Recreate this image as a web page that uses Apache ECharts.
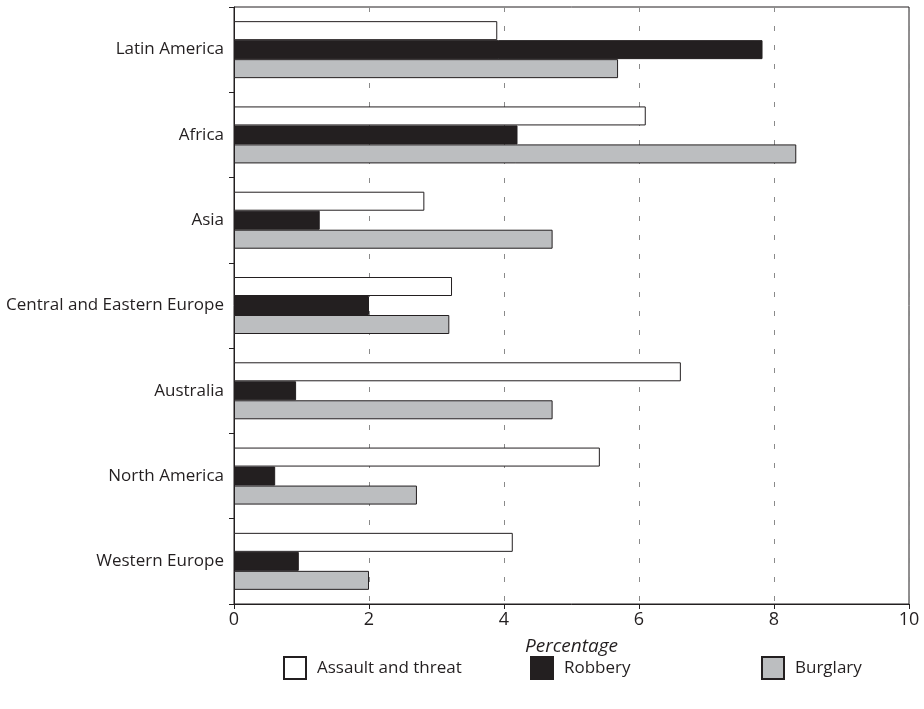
<!DOCTYPE html>
<html lang="en">
<head>
  <meta charset="UTF-8">
  <title>Victimisation by region</title>
  <script src="https://cdn.jsdelivr.net/npm/echarts@6/dist/echarts.min.js"></script>
  <style>
    body { margin: 0; background: #fff; }
  </style>
</head>
<body>
  <div id="main" style="width: 924px;height:709px;"></div>
  <script>
    // data
    var regions = ['Latin America', 'Africa', 'Asia', 'Central and Eastern Europe', 'Australia', 'North America', 'Western Europe'];
    var assault = [3.9, 6.1, 2.82, 3.23, 6.62, 5.42, 4.13];
    var robbery = [7.83, 4.2, 1.27, 2.0, 0.92, 0.61, 0.96];
    var burglary = [5.69, 8.33, 4.72, 3.19, 4.72, 2.71, 2.0];
    var xTicks = [0, 2, 4, 6, 8, 10];

    var ink = '#231f20';
    var font = '"Open Sans", "Noto Sans", sans-serif';

    var myChart = echarts.init(document.getElementById('main'));

    function bar(name, data, fill) {
      return {
        name: name,
        type: 'bar',
        data: data,
        barWidth: 19,
        barGap: '0%',
        itemStyle: { color: fill, borderColor: ink, borderWidth: 1 },
        emphasis: { disabled: true }
      };
    }

    // one legend per entry so each can sit where the original has it
    function legendItem(name, left) {
      return {
        data: [name],
        left: left,
        top: 656,
        padding: 0,
        icon: 'rect',
        itemWidth: 22,
        itemHeight: 22,
        itemGap: 0,
        textStyle: { fontFamily: font, fontSize: 17, color: ink, padding: [0, 0, 0, 6] },
        selectedMode: false
      };
    }

    var option = {
      animation: false,
      grid: {
        left: 234, right: 15, top: 7, bottom: 105,
        show: true, borderColor: ink, borderWidth: 1
      },
      legend: [
        legendItem('Assault and threat', 283),
        legendItem('Robbery', 530),
        legendItem('Burglary', 761)
      ],
      xAxis: {
        type: 'value',
        min: 0,
        max: 10,
        interval: 2,
        name: 'Percentage',
        nameLocation: 'middle',
        nameGap: 33,
        nameTextStyle: { fontFamily: font, fontSize: 19, fontStyle: 'italic', color: ink },
        axisLine: { show: true, lineStyle: { color: ink, width: 1 } },
        axisTick: { show: true, length: 5, lineStyle: { color: ink } },
        axisLabel: {
          fontFamily: font, fontSize: 18, color: ink, margin: 7,
          formatter: function (v) { return xTicks.indexOf(v) >= 0 ? String(v) : ''; }
        },
        splitLine: { show: true, lineStyle: { color: '#8a8a8a', type: [5, 14], width: 1 } }
      },
      yAxis: {
        type: 'category',
        data: regions,
        inverse: true,
        axisLine: { show: true, lineStyle: { color: ink, width: 1 } },
        axisTick: { show: true, length: 5, lineStyle: { color: ink } },
        axisLabel: { fontFamily: font, fontSize: 17, color: ink, margin: 10 },
        splitLine: { show: false }
      },
      series: [
        bar('Assault and threat', assault, '#ffffff'),
        bar('Robbery', robbery, ink),
        bar('Burglary', burglary, '#bcbec0')
      ]
    };

    myChart.setOption(option);
  </script>
</body>
</html>
